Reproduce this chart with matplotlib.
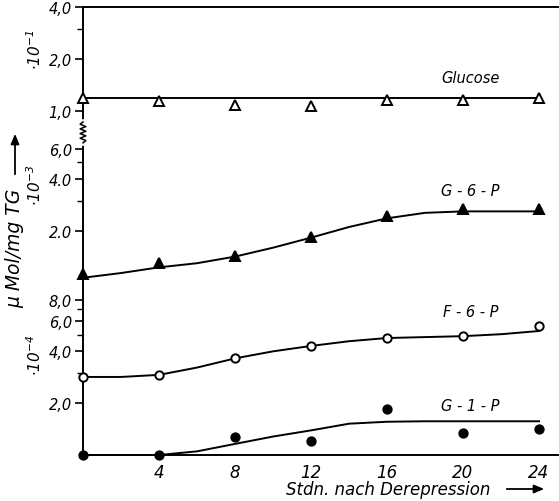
import numpy as np
import matplotlib
matplotlib.use("Agg")
import matplotlib.pyplot as plt
from matplotlib.ticker import FixedLocator, FixedFormatter, NullFormatter
from matplotlib.transforms import blended_transform_factory

plt.rcParams['font.family'] = ['DejaVu Sans']
plt.rcParams['font.style'] = 'italic'
plt.rcParams['mathtext.fontset'] = 'dejavusans'

# measured hours
hours = [0, 4, 8, 12, 16, 20, 24]

# values as read, in units of the section (·10^-1, ·10^-3, ·10^-4)
glucose = [1.19, 1.145, 1.08, 1.07, 1.16, 1.16, 1.19]          # ·10^-1
g6p = [1.12, 1.30, 1.44, 1.85, 2.46, 2.67, 2.70]               # ·10^-3
f6p = [2.84, 2.93, 3.64, 4.30, 4.79, 4.90, 5.60]               # ·10^-4
g1p = [1.00, 1.00, 1.27, 1.20, 1.86, 1.35, 1.42]               # ·10^-4

# hand-drawn fitted curves, read every 2 h
curve_h = [0, 2, 4, 6, 8, 10, 12, 14, 16, 18, 20, 22, 24]
glucose_fit = [1.19] * 13
g6p_fit = [1.07, 1.14, 1.23, 1.30, 1.42, 1.60, 1.83, 2.11, 2.37, 2.55, 2.60, 2.60, 2.60]
f6p_fit = [2.84, 2.84, 2.92, 3.22, 3.64, 4.00, 4.30, 4.58, 4.78, 4.84, 4.90, 5.03, 5.25]
g1p_fit = [1.00, 1.00, 1.00, 1.05, 1.16, 1.28, 1.39, 1.52, 1.56, 1.57, 1.57, 1.57, 1.57]

# the upper section is drawn one decade lower (axis break)
SCALE_GLC = 1e-2
SCALE_G6P = 1e-3
SCALE_F6P = 1e-4

major_vals = [4e-2, 2e-2, 1e-2, 6e-3, 4e-3, 2e-3, 8e-4, 6e-4, 4e-4, 2e-4]
major_labels = ["4,0", "2,0", "1,0", "6,0", "4.0", "2.0", "8,0", "6,0", "4,0", "2,0"]
minor_vals = [3e-2, 5e-3, 3e-3, 7e-4, 5e-4, 3e-4]
xticks = [4, 8, 12, 16, 20, 24]

W, H = 559, 502
fig = plt.figure(figsize=(W / 100, H / 100), dpi=100)
ax = fig.add_axes([83 / W, 46 / H, (W - 83) / W, (456 - 8) / H])

LW = 1.4
MS_T = 7.5
MS_C = 6

def draw(h, vals, fit, scale, marker, face):
    ax.plot(curve_h, np.array(fit) * scale, color="black", lw=LW, zorder=3,
            clip_on=False)
    ax.plot(h, np.array(vals) * scale, linestyle="none", marker=marker,
            ms=MS_T if marker == "^" else MS_C, mfc=face, mec="black",
            mew=1.4, zorder=5, clip_on=False)

draw(hours, glucose, glucose_fit, SCALE_GLC, "^", "white")
draw(hours, g6p, g6p_fit, SCALE_G6P, "^", "black")
draw(hours, f6p, f6p_fit, SCALE_F6P, "o", "white")
draw(hours, g1p, g1p_fit, SCALE_F6P, "o", "black")

ax.set_yscale("log")
ax.set_ylim(1e-4, 4e-2)
ax.set_xlim(0, 25.05)

ax.yaxis.set_major_locator(FixedLocator(major_vals))
ax.yaxis.set_major_formatter(FixedFormatter(major_labels))
ax.yaxis.set_minor_locator(FixedLocator(minor_vals))
ax.yaxis.set_minor_formatter(NullFormatter())
ax.tick_params(axis="y", which="major", direction="out", length=6, width=1.2,
               labelsize=10.5, pad=2)
ax.tick_params(axis="y", which="minor", direction="out", length=4, width=1.0)

ax.set_xticks(xticks)
ax.set_xticklabels([str(t) for t in xticks])
ax.tick_params(axis="x", length=0, labelsize=12, pad=6)

for s in ["left", "bottom", "top"]:
    ax.spines[s].set_linewidth(1.4)
ax.spines["right"].set_visible(False)

# axis break on the left spine
trans = blended_transform_factory(ax.transAxes, ax.transData)
yb = np.geomspace(6.5e-3, 8.6e-3, 10)
ax.plot([0, 0], [yb[0], yb[-1]], color="white", lw=4, transform=trans,
        clip_on=False, zorder=4)
zx = np.array([0, 0.006, -0.006, 0.006, -0.006, 0.006, -0.006, 0.006, -0.006, 0])
ax.plot(zx, yb, color="black", lw=1.1, transform=trans, clip_on=False, zorder=4)

# series names
ax.text(20.4, 1.556e-2, "Glucose", ha="center", va="center", fontsize=10.5)
ax.text(20.4, 3.43e-3, "G - 6 - P", ha="center", va="center", fontsize=10.5)
ax.text(20.4, 6.78e-4, "F - 6 - P", ha="center", va="center", fontsize=10.5)
ax.text(20.4, 1.93e-4, "G - 1 - P", ha="center", va="center", fontsize=10.5)

# section exponents
for txt, ypix in [(r"$\cdot\mathit{10^{-1}}$", 50),
                  (r"$\cdot\mathit{10^{-3}}$", 185),
                  (r"$\cdot\mathit{10^{-4}}$", 355)]:
    fig.text(35 / W, 1 - ypix / H, txt, rotation=90, ha="center", va="center",
             fontsize=11)

# axis titles with arrows
fig.text(490 / W, 12 / H, "Stdn. nach Derepression", ha="right", va="center",
         fontsize=12)
fig.add_artist(matplotlib.patches.FancyArrowPatch(
    (504 / W, 12 / H), (547 / W, 12 / H), transform=fig.transFigure,
    arrowstyle="-|>,head_length=6,head_width=2.5", color="black", lw=1.3))

fig.text(15 / W, 1 - 248 / H, "\u03bc Mol/mg TG", rotation=90, ha="center",
         va="center", fontsize=13.5)
fig.add_artist(matplotlib.patches.FancyArrowPatch(
    (15 / W, 1 - 178 / H), (15 / W, 1 - 132 / H), transform=fig.transFigure,
    arrowstyle="-|>,head_length=6,head_width=2.5", color="black", lw=1.3))

fig.savefig("out.png", dpi=100)
